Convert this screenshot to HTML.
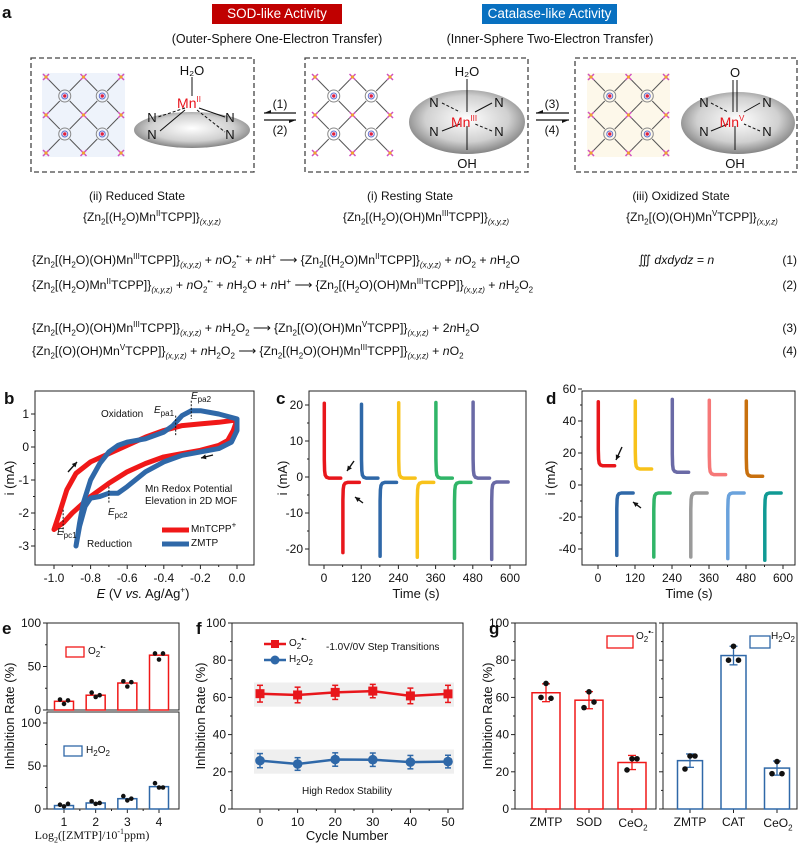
<!DOCTYPE html>
<html><head><meta charset="utf-8">
<style>
html,body{margin:0;padding:0;background:#fff;}
#root{position:relative;width:800px;height:844px;overflow:hidden;font-family:"Liberation Sans",Arial,sans-serif;color:#111;}
svg{position:absolute;left:0;top:0;}
.t{position:absolute;white-space:nowrap;font-size:12px;line-height:14px;}
.t sub,.t sup{font-size:8px;line-height:0;}
.c{transform:translateX(-50%);}
.eq{position:absolute;left:32px;white-space:nowrap;font-size:12.3px;line-height:14px;}
.eq sub,.eq sup{font-size:8px;line-height:0;}
.num{position:absolute;right:3px;font-size:12px;}
</style></head>
<body>
<div id="root">
<svg id="svg" width="800" height="844" viewBox="0 0 800 844"></svg>

<div class="t" style="left:2px;top:6px;font-size:17px;font-weight:bold;">a</div>
<div class="t" style="left:212px;top:4px;width:130px;height:20px;background:#c00000;color:#fff;font-size:13.5px;line-height:20px;text-align:center;">SOD-like Activity</div>
<div class="t" style="left:482px;top:4px;width:135px;height:20px;background:#0870c0;color:#fff;font-size:13.5px;line-height:20px;text-align:center;">Catalase-like Activity</div>
<div class="t c" style="left:277px;top:32px;font-size:12.5px;">(Outer-Sphere One-Electron Transfer)</div>
<div class="t c" style="left:550px;top:32px;font-size:12.5px;">(Inner-Sphere Two-Electron Transfer)</div>

<div class="t c" style="left:137px;top:189px;">(ii) Reduced State</div>
<div class="t c" style="left:152px;top:210px;">{Zn<sub>2</sub>[(H<sub>2</sub>O)Mn<sup>II</sup>TCPP]}<sub><i>(x,y,z)</i></sub></div>
<div class="t c" style="left:410px;top:189px;">(i) Resting State</div>
<div class="t c" style="left:426px;top:210px;">{Zn<sub>2</sub>[(H<sub>2</sub>O)(OH)Mn<sup>III</sup>TCPP]}<sub><i>(x,y,z)</i></sub></div>
<div class="t c" style="left:681px;top:189px;">(iii) Oxidized State</div>
<div class="t c" style="left:702px;top:210px;">{Zn<sub>2</sub>[(O)(OH)Mn<sup>V</sup>TCPP]}<sub><i>(x,y,z)</i></sub></div>

<div class="eq" style="top:253px;">{Zn<sub>2</sub>[(H<sub>2</sub>O)(OH)Mn<sup>III</sup>TCPP]}<sub><i>(x,y,z)</i></sub> + <i>n</i>O<sub>2</sub><sup>•-</sup> + <i>n</i>H<sup>+</sup> ⟶ {Zn<sub>2</sub>[(H<sub>2</sub>O)Mn<sup>II</sup>TCPP]}<sub><i>(x,y,z)</i></sub> + <i>n</i>O<sub>2</sub> + <i>n</i>H<sub>2</sub>O</div>
<div class="eq" style="top:253px;left:638px;">∭ <i>dxdydz = n</i></div>
<div class="eq" style="top:278px;">{Zn<sub>2</sub>[(H<sub>2</sub>O)Mn<sup>II</sup>TCPP]}<sub><i>(x,y,z)</i></sub> + <i>n</i>O<sub>2</sub><sup>•-</sup> + <i>n</i>H<sub>2</sub>O + <i>n</i>H<sup>+</sup> ⟶ {Zn<sub>2</sub>[(H<sub>2</sub>O)(OH)Mn<sup>III</sup>TCPP]}<sub><i>(x,y,z)</i></sub> + <i>n</i>H<sub>2</sub>O<sub>2</sub></div>
<div class="eq" style="top:321px;">{Zn<sub>2</sub>[(H<sub>2</sub>O)(OH)Mn<sup>III</sup>TCPP]}<sub><i>(x,y,z)</i></sub> + <i>n</i>H<sub>2</sub>O<sub>2</sub> ⟶ {Zn<sub>2</sub>[(O)(OH)Mn<sup>V</sup>TCPP]}<sub><i>(x,y,z)</i></sub> + 2<i>n</i>H<sub>2</sub>O</div>
<div class="eq" style="top:344px;">{Zn<sub>2</sub>[(O)(OH)Mn<sup>V</sup>TCPP]}<sub><i>(x,y,z)</i></sub> + <i>n</i>H<sub>2</sub>O<sub>2</sub> ⟶ {Zn<sub>2</sub>[(H<sub>2</sub>O)(OH)Mn<sup>III</sup>TCPP]}<sub><i>(x,y,z)</i></sub> + <i>n</i>O<sub>2</sub></div>
<div class="num" style="top:253px;">(1)</div>
<div class="num" style="top:278px;">(2)</div>
<div class="num" style="top:321px;">(3)</div>
<div class="num" style="top:344px;">(4)</div>

<!-- panel b annotations -->
<div class="t" style="left:101px;top:408px;font-size:10px;">Oxidation</div>
<div class="t" style="left:154px;top:404px;font-size:10px;"><i>E</i><sub>pa1</sub></div>
<div class="t" style="left:191px;top:390px;font-size:10px;"><i>E</i><sub>pa2</sub></div>
<div class="t" style="left:145px;top:483px;font-size:10px;">Mn Redox Potential</div>
<div class="t" style="left:145px;top:495px;font-size:10px;">Elevation in 2D MOF</div>
<div class="t" style="left:108px;top:506px;font-size:10px;"><i>E</i><sub>pc2</sub></div>
<div class="t" style="left:57px;top:526px;font-size:10px;"><i>E</i><sub>pc1</sub></div>
<div class="t" style="left:87px;top:538px;font-size:10px;">Reduction</div>
<div class="t" style="left:191px;top:523px;font-size:10px;">MnTCPP<sup>+</sup></div>
<div class="t" style="left:191px;top:537px;font-size:10px;">ZMTP</div>
<div class="t c" style="left:143px;top:587px;font-size:13px;"><i>E</i> (V <i>vs.</i> Ag/Ag<sup>+</sup>)</div>
<div class="t c" style="left:416px;top:587px;font-size:13px;">Time (s)</div>
<div class="t c" style="left:689px;top:587px;font-size:13px;">Time (s)</div>

<!-- e/f/g text -->
<div class="t" style="left:88px;top:645px;font-size:10px;">O<sub>2</sub><sup>•-</sup></div>
<div class="t" style="left:86px;top:744px;font-size:10px;">H<sub>2</sub>O<sub>2</sub></div>
<div class="t c" style="left:92px;top:828px;font-size:12px;font-family:'Liberation Serif',serif;">Log<sub>2</sub>([ZMTP]/10<sup>-1</sup>ppm)</div>
<div class="t" style="left:289px;top:637px;font-size:10px;">O<sub>2</sub><sup>•-</sup></div>
<div class="t" style="left:289px;top:653px;font-size:10px;">H<sub>2</sub>O<sub>2</sub></div>
<div class="t" style="left:326px;top:641px;font-size:10px;">-1.0V/0V Step Transitions</div>
<div class="t c" style="left:347px;top:785px;font-size:10px;">High Redox Stability</div>
<div class="t c" style="left:347px;top:829px;font-size:13px;">Cycle Number</div>
<div class="t" style="left:636px;top:630px;font-size:10px;">O<sub>2</sub><sup>•-</sup></div>
<div class="t" style="left:771px;top:630px;font-size:10px;">H<sub>2</sub>O<sub>2</sub></div>
<div class="t c" style="left:633px;top:816px;">CeO<sub>2</sub></div>
<div class="t c" style="left:778px;top:816px;">CeO<sub>2</sub></div>
</div>

<script>
// ---------- DATA ----------
const cvRedE = [-1.0,-0.97,-0.93,-0.88,-0.8,-0.7,-0.6,-0.5,-0.4,-0.3,-0.2,-0.1,0.0,-0.02,-0.05,-0.1,-0.2,-0.3,-0.4,-0.5,-0.6,-0.7,-0.8,-0.9,-0.95,-1.0];
const cvRedI = [-2.5,-2.0,-1.3,-0.8,-0.45,-0.2,0.05,0.3,0.5,0.65,0.7,0.75,0.82,0.5,0.2,0.05,-0.1,-0.2,-0.3,-0.5,-0.75,-1.1,-1.5,-2.0,-2.3,-2.5];
const cvBlueE = [-0.88,-0.86,-0.84,-0.8,-0.75,-0.7,-0.65,-0.6,-0.5,-0.4,-0.35,-0.3,-0.25,-0.2,-0.1,0.0,0.0,-0.03,-0.1,-0.2,-0.3,-0.4,-0.5,-0.6,-0.65,-0.7,-0.75,-0.8,-0.83,-0.86,-0.88];
const cvBlueI = [-3.0,-2.3,-1.7,-1.0,-0.5,-0.15,0.05,0.15,0.25,0.45,0.65,0.95,1.1,1.1,1.0,0.85,0.5,0.15,-0.05,-0.15,-0.25,-0.45,-0.75,-1.2,-1.4,-1.4,-1.5,-1.55,-1.8,-2.4,-3.0];
const bXTicks = [-1.0,-0.8,-0.6,-0.4,-0.2,0.0];
const bXTickLabels = ['-1.0','-0.8','-0.6','-0.4','-0.2','0.0'];
const bYTicks = [-3,-2,-1,0,1];

const cStarts = [0,120,240,360,480];
const cPosPeak = [20.5,20.2,20.6,20.7,20.8];
const cPosSteady = [-0.3,-0.3,-0.3,-0.3,-0.3];
const cNegPeak = [-21,-22,-22.3,-22.6,-22.9];
const cNegSteady = [-1.5,-1.5,-1.5,-1.5,-1.4];
const cColors = ['#e8161b','#2f68a8','#f8c21a','#30b568','#6a6aa6'];
const timeTicks = [0,120,240,360,480,600];
const cYTicks = [-20,-10,0,10,20];

const dStarts = [0,120,240,360,480];
const dPosPeak = [52,52.5,53.5,53,52.5];
const dPosSteady = [12,10,8,6.5,5.5];
const dNegPeak = [-44,-45,-45,-46,-47];
const dNegSteady = [-5,-5,-5,-5,-5];
const dPosColors = ['#e8161b','#f8c21a','#6a6aa6','#f67878','#c8700e'];
const dNegColors = ['#2f68a8','#30b568','#9a9a9a','#6aa2dc','#109a94'];
const dYTicks = [-40,-20,0,20,40,60];

const eCats = [1,2,3,4];
const eSupVals = [10,17,31,63];
const eSupDots = [[12,7,11],[20,15,17],[33,27,32],[65,58,65]];
const eH2Vals = [4,7,12,26];
const eH2Dots = [[5,3,6],[9,6,7],[15,10,12],[30,25,25]];
const eYTicks = [0,50,100];

const fCycles = [0,10,20,30,40,50];
const fSup = [62,61.3,62.7,63.4,60.8,61.9];
const fSupErr = [4.5,4.2,3.8,3.6,4.2,4.6];
const fH2 = [26,24.2,26.6,26.5,25.2,25.5];
const fH2Err = [3.8,3.4,3.6,3.6,3.6,3.4];
const fYTicks = [0,20,40,60,80,100];

const gLeftCats = ['ZMTP','SOD','CeO2'];
const gLeftVals = [62.5,58.5,25];
const gLeftErr = [4.8,4.6,3.8];
const gLeftDots = [[67.5,60,59.5],[63,54.5,57.5],[27,21,27]];
const gRightCats = ['ZMTP','CAT','CeO2'];
const gRightVals = [26,82.5,22];
const gRightErr = [3.6,5,3.8];
const gRightDots = [[28.5,21.5,28.5],[87.5,80,80],[25.5,19,19]];
const gYTicks = [0,20,40,60,80,100];

// ---------- HELPERS ----------
const NS='http://www.w3.org/2000/svg';
const S=document.getElementById('svg');
function mk(tag,a,p){const e=document.createElementNS(NS,tag);for(const k in a)e.setAttribute(k,a[k]);(p||S).appendChild(e);return e;}
function tx(x,y,s,a,p){const e=mk('text',Object.assign({x:x,y:y,'font-family':'Liberation Sans, Arial, sans-serif','font-size':12,fill:'#111'},a||{}),p);e.textContent=s;return e;}
function lin(d0,d1,r0,r1){return v=>r0+(v-d0)*(r1-r0)/(d1-d0);}
function pathFrom(xs,ys){let d='';for(let i=0;i<xs.length;i++)d+=(i?'L':'M')+xs[i].toFixed(1)+','+ys[i].toFixed(1);return d;}
function arrow(x1,y1,x2,y2,name){
  const g=mk('g',{});
  
  
  mk('line',{x1,y1,x2,y2,stroke:'#111','stroke-width':1.4},g);
  const a=Math.atan2(y2-y1,x2-x1),L=5,W=2.5;
  const bx=x2-L*Math.cos(a),by=y2-L*Math.sin(a);
  mk('path',{d:`M${x2},${y2}L${bx-W*Math.sin(a)},${by+W*Math.cos(a)}L${bx+W*Math.sin(a)},${by-W*Math.cos(a)}Z`,fill:'#111'},g);
}

function frame(x0,y0,x1,y1,name){
  const r=mk('rect',{x:x0,y:y0,width:x1-x0,height:y1-y0,fill:'none',stroke:'#222','stroke-width':1});
  
  
}
function yAxis(ticks,sy,x0,labels,name,show){
  const g=mk('g',{});
  
  
  ticks.forEach((v,i)=>{
    mk('line',{x1:x0-4,x2:x0,y1:sy(v),y2:sy(v),stroke:'#222'},g);
    if(show!==false)tx(x0-6,sy(v)+4,labels?labels[i]:String(v),{'text-anchor':'end'},g);
  });
  for(let i=0;i<ticks.length-1;i++){const m=(ticks[i]+ticks[i+1])/2;mk('line',{x1:x0-2,x2:x0,y1:sy(m),y2:sy(m),stroke:'#222'},g);}
}
function xAxis(ticks,sx,y0,labels,name,show){
  const g=mk('g',{});
  
  
  ticks.forEach((v,i)=>{
    mk('line',{x1:sx(v),x2:sx(v),y1:y0,y2:y0+4,stroke:'#222'},g);
    if(show!==false)tx(sx(v),y0+17,labels?labels[i]:String(v),{'text-anchor':'middle'},g);
  });
  for(let i=0;i<ticks.length-1;i++){const m=(ticks[i]+ticks[i+1])/2;mk('line',{x1:sx(m),x2:sx(m),y1:y0,y2:y0+2,stroke:'#222'},g);}
}
function ytitle(x,y,s,name){
  const t=tx(x,y,s,{'text-anchor':'middle','font-size':13,transform:'rotate(-90 '+x+' '+y+')'});
  
  
  return t;
}
function panelLabel(x,y,s){
  const t=tx(x,y,s,{'font-size':17,'font-weight':'bold'});
  
  
}

// ---------- PANEL A GRAPHICS ----------
(function(){
  const dg=mk('defs',{});
  const rg=mk('radialGradient',{id:'sph',cx:'0.5',cy:'0.45',r:'0.6'},dg);
  mk('stop',{offset:'0','stop-color':'#ffffff'},rg);
  mk('stop',{offset:'0.6','stop-color':'#d0d0d0'},rg);
  mk('stop',{offset:'1','stop-color':'#707070'},rg);
  const boxes=[[31,254,'reduced-state-box'],[305,528,'resting-state-box'],[575,797,'oxidized-state-box']];
  boxes.forEach(b=>{
    const r=mk('rect',{x:b[0],y:58,width:b[1]-b[0],height:114,fill:'none',stroke:'#444','stroke-width':1.3,'stroke-dasharray':'5,3'});
    
    
  });
  const lat=[[42,'#eef3fb','lattice-reduced'],[311,'#ffffff','lattice-resting'],[587,'#fdf8ea','lattice-oxidized']];
  lat.forEach(L=>{
    const g=mk('g',{});
    
    
    const x0=L[0],y0=73,w=83,h=84;
    mk('rect',{x:x0,y:y0,width:w,height:h,fill:L[1]},g);
    for(let i=0;i<3;i++)for(let j=0;j<3;j++){
      const cx=x0+4+i*(w-8)/2,cy=y0+4+j*(h-8)/2;
      mk('line',{x1:cx-3,y1:cy-3,x2:cx+3,y2:cy+3,stroke:'#d050c0','stroke-width':1.5},g);
      mk('line',{x1:cx-3,y1:cy+3,x2:cx+3,y2:cy-3,stroke:'#d050c0','stroke-width':1.5},g);
      mk('circle',{cx:cx,cy:cy,r:1.6,fill:'#f0a030'},g);
    }
    for(let i=0;i<2;i++)for(let j=0;j<2;j++){
      const cx=x0+4+(w-8)/4+i*(w-8)/2,cy=y0+4+(h-8)/4+j*(h-8)/2;
      const q=(w-8)/4,p=(h-8)/4;
      [[-1,-1],[1,-1],[-1,1],[1,1]].forEach(s=>mk('line',{x1:cx+s[0]*5,y1:cy+s[1]*5,x2:cx+s[0]*(q-3),y2:cy+s[1]*(p-3),stroke:'#555','stroke-width':1},g));
      mk('circle',{cx:cx,cy:cy,r:6,fill:'none',stroke:'#888','stroke-width':1},g);
      mk('circle',{cx:cx,cy:cy,r:3,fill:'none',stroke:'#6070d0','stroke-width':1},g);
      mk('circle',{cx:cx,cy:cy,r:1.7,fill:'#e02040'},g);
    }
  });
  const sph=[[192,130,58,18,'sphere-reduced'],[467,122,58,32,'sphere-resting'],[738,123,57,31,'sphere-oxidized']];
  sph.forEach(s=>{
    const e=mk('ellipse',{cx:s[0],cy:s[1],rx:s[2],ry:s[3],fill:'url(#sph)'});
    
    
  });
  const bond=(x1,y1,x2,y2,dash)=>mk('line',{x1,y1,x2,y2,stroke:'#111','stroke-width':1,'stroke-dasharray':dash?'3,2':'none'});
  bond(192,77,192,96);bond(185,108,158,117,true);bond(185,110,160,131);bond(199,108,225,117,false);bond(197,110,225,132,true);
  tx(192,75,'H₂O',{'text-anchor':'middle','font-size':13});
  tx(152,122,'N',{'text-anchor':'middle','font-size':13});tx(152,139,'N',{'text-anchor':'middle','font-size':13});
  tx(230,122,'N',{'text-anchor':'middle','font-size':13});tx(230,139,'N',{'text-anchor':'middle','font-size':13});
  bond(467,79,467,112);bond(467,126,467,150);bond(442,103,460,112,true);bond(492,103,475,112);bond(442,131,460,124);bond(492,131,475,124,true);
  tx(467,76,'H₂O',{'text-anchor':'middle','font-size':13});tx(467,168,'OH',{'text-anchor':'middle','font-size':13});
  [[434,107],[499,107],[434,136],[499,136]].forEach(p=>tx(p[0],p[1],'N',{'text-anchor':'middle','font-size':13}));
  mk('line',{x1:733,y1:80,x2:733,y2:112,stroke:'#111'});mk('line',{x1:737,y1:80,x2:737,y2:112,stroke:'#111'});
  bond(735,126,735,150);bond(711,103,728,112,true);bond(760,103,744,112);bond(711,131,728,124);bond(760,131,744,124,true);
  tx(735,77,'O',{'text-anchor':'middle','font-size':13});tx(735,168,'OH',{'text-anchor':'middle','font-size':13});
  [[704,107],[767,107],[704,136],[767,136]].forEach(p=>tx(p[0],p[1],'N',{'text-anchor':'middle','font-size':13}));
  const mn=[[192,108,'II','mn-ii-label'],[467,127,'III','mn-iii-label'],[735,127,'V','mn-v-label']];
  mn.forEach(m=>{const t=mk('text',{x:m[0]-3,y:m[1],'text-anchor':'middle','font-family':'Liberation Sans, Arial, sans-serif','font-size':14,fill:'#e8141c'});
    
    
    t.textContent='Mn';const sp=mk('tspan',{dy:-6,'font-size':8},t);sp.textContent=m[2];});
  [[264,296,280,'1','2','arrows-1-2'],[536,569,552,'3','4','arrows-3-4']].forEach(a=>{
    const g=mk('g',{});
    
    
    mk('line',{x1:a[0],y1:113,x2:a[1],y2:113,stroke:'#111','stroke-width':1.3},g);
    mk('path',{d:`M${a[0]},113 l7,-3 l0,3 z`,fill:'#111'},g);
    mk('line',{x1:a[0],y1:120,x2:a[1],y2:120,stroke:'#111','stroke-width':1.3},g);
    mk('path',{d:`M${a[1]},120 l-7,3 l0,-3 z`,fill:'#111'},g);
    tx(a[2],108,'('+a[3]+')',{'text-anchor':'middle'},g);
    tx(a[2],134,'('+a[4]+')',{'text-anchor':'middle'},g);
  });
})();

// ---------- PANEL B ----------
(function(){
  const x0=35,x1=254,y0=391,y1=565;
  const sx=lin(-1,0,54,237), sy=lin(0,-1,447,480);
  panelLabel(4,404,'b');
  frame(x0,y0,x1,y1,'b-plot-frame');
  xAxis(bXTicks,sx,y1,bXTickLabels,'b-x-axis');
  yAxis(bYTicks,sy,x0,null,'b-y-axis');
  ytitle(14,478,'i (mA)','b-y-axis-title');
  const r=mk('path',{d:pathFrom(cvRedE.map(sx),cvRedI.map(sy)),fill:'none',stroke:'#f01818','stroke-width':5,'stroke-linejoin':'round','stroke-linecap':'round'});
  
  
  const b=mk('path',{d:pathFrom(cvBlueE.map(sx),cvBlueI.map(sy)),fill:'none',stroke:'#2f68a8','stroke-width':5,'stroke-linejoin':'round','stroke-linecap':'round'});
  
  
  [[-0.25,1.4,0.85],[-0.335,0.95,0.35],[-0.7,-1.2,-1.7],[-0.95,-1.9,-2.6]].forEach(d=>mk('line',{x1:sx(d[0]),x2:sx(d[0]),y1:sy(d[1]),y2:sy(d[2]),stroke:'#111','stroke-dasharray':'2,1.5'}));
  mk('line',{x1:162,x2:189,y1:530,y2:530,stroke:'#f01818','stroke-width':5});
  mk('line',{x1:162,x2:189,y1:544,y2:544,stroke:'#2f68a8','stroke-width':5});
  arrow(68,472,77,462,'b-forward-arrow');
  arrow(213,455,201,458,'b-reverse-arrow');
})();

// ---------- PANEL C ----------
function stepCurve(sx,sy,t0,t1,peak,steady,color,name){
  const ts=[t0+1,t0+1,t0+2,t0+4,t0+8,t0+16,t1-4];
  const vs=[peak,steady+(peak-steady)*0.25,steady+(peak-steady)*0.1,steady+(peak-steady)*0.04,steady+(peak-steady)*0.012,steady,steady];
  const p=mk('path',{d:pathFrom(ts.map(sx),vs.map(sy)),fill:'none',stroke:color,'stroke-width':3.5,'stroke-linejoin':'round','stroke-linecap':'round'});
  
  
}
(function(){
  const x0=309,x1=526,y0=391,y1=565;
  const sx=lin(0,600,324,510), sy=lin(0,10,477,441);
  panelLabel(276,404,'c');
  frame(x0,y0,x1,y1,'c-plot-frame');
  xAxis(timeTicks,sx,y1,null,'c-x-axis');
  yAxis(cYTicks,sy,x0,null,'c-y-axis');
  ytitle(287,478,'i (mA)','c-y-axis-title');
  cStarts.forEach((t,i)=>{
    stepCurve(sx,sy,t,t+58,cPosPeak[i],cPosSteady[i],cColors[i],'c-anodic-step-'+(i+1));
    stepCurve(sx,sy,t+60,t+118,cNegPeak[i],cNegSteady[i],cColors[i],'c-cathodic-step-'+(i+1));
  });
  arrow(354,461,347,471,'c-arrow-anodic');
  arrow(363,503,355,497,'c-arrow-cathodic');
})();

// ---------- PANEL D ----------
(function(){
  const x0=582,x1=795,y0=391,y1=565;
  const sx=lin(0,600,598,783), sy=lin(0,20,485,453);
  panelLabel(546,404,'d');
  frame(x0,y0,x1,y1,'d-plot-frame');
  xAxis(timeTicks,sx,y1,null,'d-x-axis');
  yAxis(dYTicks,sy,x0,null,'d-y-axis');
  ytitle(555,478,'i (mA)','d-y-axis-title');
  dStarts.forEach((t,i)=>{
    stepCurve(sx,sy,t,t+58,dPosPeak[i],dPosSteady[i],dPosColors[i],'d-anodic-step-'+(i+1));
    stepCurve(sx,sy,t+60,t+118,dNegPeak[i],dNegSteady[i],dNegColors[i],'d-cathodic-step-'+(i+1));
  });
  arrow(622,447,616,460,'d-arrow-anodic');
  arrow(641,508,633,502,'d-arrow-cathodic');
})();

// ---------- PANEL E ----------
(function(){
  const x0=47,x1=179;
  const sx=lin(1,4,64,159);
  const syT=lin(0,100,710,623), syB=lin(0,100,809,723);
  panelLabel(2,634,'e');
  frame(x0,623,x1,710,'e-top-frame');
  frame(x0,712,x1,809,'e-bottom-frame');
  yAxis(eYTicks,syT,x0,null,'e-top-y-axis');
  yAxis(eYTicks,syB,x0,null,'e-bottom-y-axis');
  xAxis(eCats,sx,809,null,'e-x-axis');
  ytitle(14,716,'Inhibition Rate (%)','e-y-axis-title');
  const bw=19;
  eCats.forEach((c,i)=>{
    const r=mk('rect',{x:sx(c)-bw/2,y:syT(eSupVals[i]),width:bw,height:syT(0)-syT(eSupVals[i]),fill:'#fff',stroke:'#f01818','stroke-width':1.5});
    
    
    const b=mk('rect',{x:sx(c)-bw/2,y:syB(eH2Vals[i]),width:bw,height:syB(0)-syB(eH2Vals[i]),fill:'#fff',stroke:'#2f68a8','stroke-width':1.5});
    
    
    eSupDots[i].forEach((v,j)=>mk('circle',{cx:sx(c)-4+j*4,cy:syT(v),r:2.3,fill:'#111'}));
    eH2Dots[i].forEach((v,j)=>mk('circle',{cx:sx(c)-4+j*4,cy:syB(v),r:2.3,fill:'#111'}));
  });
  mk('rect',{x:66,y:647,width:18,height:10,fill:'#fff',stroke:'#f01818','stroke-width':1.3});
  mk('rect',{x:64,y:746,width:18,height:10,fill:'#fff',stroke:'#2f68a8','stroke-width':1.3});
})();

// ---------- PANEL F ----------
(function(){
  const x0=232,x1=463,y0=623,y1=809;
  const sx=lin(0,50,260,448), sy=lin(0,100,809,623);
  panelLabel(196,634,'f');
  mk('rect',{x:254,y:sy(68),width:200,height:sy(55)-sy(68),fill:'#efefef'});
  mk('rect',{x:254,y:sy(32),width:200,height:sy(19)-sy(32),fill:'#efefef'});
  frame(x0,y0,x1,y1,'f-plot-frame');
  xAxis(fCycles,sx,y1,null,'f-x-axis');
  yAxis(fYTicks,sy,x0,null,'f-y-axis');
  ytitle(205,716,'Inhibition Rate (%)','f-y-axis-title');
  const series=[[fSup,fSupErr,'#e8161b','square','f-superoxide'],[fH2,fH2Err,'#2f68a8','circle','f-h2o2']];
  series.forEach(s=>{
    const l=mk('path',{d:pathFrom(fCycles.map(sx),s[0].map(sy)),fill:'none',stroke:s[2],'stroke-width':2.5});
    
    
    fCycles.forEach((c,i)=>{
      const x=sx(c),y=sy(s[0][i]),e=s[1][i];
      mk('line',{x1:x,x2:x,y1:sy(s[0][i]+e),y2:sy(s[0][i]-e),stroke:s[2],'stroke-width':1.5});
      mk('line',{x1:x-3,x2:x+3,y1:sy(s[0][i]+e),y2:sy(s[0][i]+e),stroke:s[2],'stroke-width':1.5});
      mk('line',{x1:x-3,x2:x+3,y1:sy(s[0][i]-e),y2:sy(s[0][i]-e),stroke:s[2],'stroke-width':1.5});
      const m=s[3]==='square'?mk('rect',{x:x-4.5,y:y-4.5,width:9,height:9,fill:s[2]}):mk('circle',{cx:x,cy:y,r:4.8,fill:s[2]});
      
      
    });
  });
  mk('line',{x1:264,x2:286,y1:644,y2:644,stroke:'#e8161b','stroke-width':2.5});
  mk('rect',{x:271,y:640,width:8,height:8,fill:'#e8161b'});
  mk('line',{x1:264,x2:286,y1:660,y2:660,stroke:'#2f68a8','stroke-width':2.5});
  mk('circle',{cx:275,cy:660,r:4.5,fill:'#2f68a8'});
})();

// ---------- PANEL G ----------
(function(){
  const sy=lin(0,100,809,623);
  panelLabel(489,634,'g');
  frame(515,623,656,809,'g-left-frame');
  frame(663,623,797,809,'g-right-frame');
  yAxis(gYTicks,sy,515,null,'g-left-y-axis');
  yAxis(gYTicks,sy,663,null,'g-right-y-axis',false);
  ytitle(492,716,'Inhibition Rate (%)','g-y-axis-title');
  const sets=[[gLeftCats,gLeftVals,gLeftErr,gLeftDots,546,43,'#f01818',28,'g-left'],[gRightCats,gRightVals,gRightErr,gRightDots,690,43.5,'#2f68a8',25,'g-right']];
  sets.forEach(s=>{
    const sx=i=>s[4]+i*s[5];
    const g=mk('g',{});
    
    
    s[0].forEach((c,i)=>{
      const x=sx(i),v=s[1][i],e=s[2][i];
      mk('line',{x1:x,x2:x,y1:809,y2:813,stroke:'#222'},g);
      if(c!=='CeO2')tx(x,826,c,{'text-anchor':'middle'},g);
      const r=mk('rect',{x:x-s[7]/2,y:sy(v),width:s[7],height:sy(0)-sy(v),fill:'#fff',stroke:s[6],'stroke-width':1.5});
      
      
      mk('line',{x1:x,x2:x,y1:sy(v+e),y2:sy(v-e),stroke:s[6],'stroke-width':1.3});
      mk('line',{x1:x-4,x2:x+4,y1:sy(v+e),y2:sy(v+e),stroke:s[6],'stroke-width':1.3});
      mk('line',{x1:x-4,x2:x+4,y1:sy(v-e),y2:sy(v-e),stroke:s[6],'stroke-width':1.3});
      s[3][i].forEach((d,j)=>mk('circle',{cx:x+[0,-5,5][j],cy:sy(d),r:2.8,fill:'#111'}));
    });
  });
  mk('rect',{x:607,y:636,width:26,height:12,fill:'#fff',stroke:'#f01818','stroke-width':1.3});
  mk('rect',{x:750,y:636,width:20,height:12,fill:'#fff',stroke:'#2f68a8','stroke-width':1.3});
})();
</script>
</body></html>
